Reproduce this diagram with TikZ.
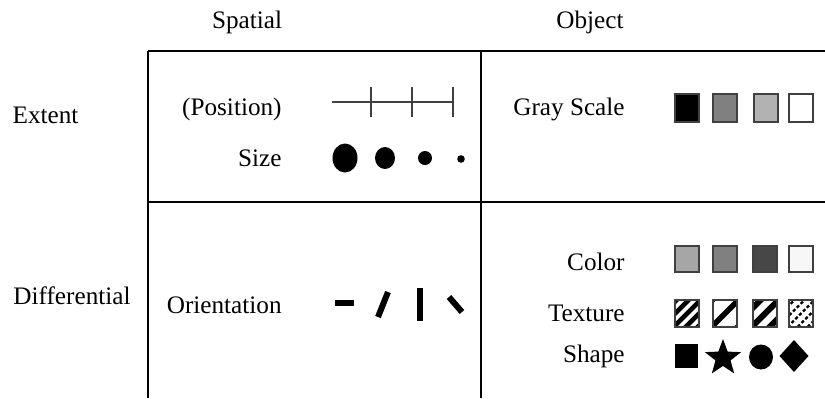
\documentclass[tikz,border=0pt]{standalone}
\usepackage{fontspec}
\setmainfont{Liberation Serif}
\usetikzlibrary{shapes.geometric}

\tikzset{
  lbl/.style={anchor=base east, inner sep=0pt},
  head/.style={anchor=base, inner sep=0pt},
  swatch/.style={draw=black!75, line width=1pt},
  bar/.style={line width=3pt},
}

% one hatched square: lower left corner x,y; stripe period; stripe width; line options
\newcommand{\hatchbox}[5]{%
  \begin{scope}
    \clip (#1,#2) rectangle ++(24,-27);
    \foreach \k in {-8,...,8} {
      \pgfmathsetmacro{\s}{\k*#3}
      \draw[line width=#4, #5] ({#1+12+\s-40},{#2-13.5+40}) -- ({#1+12+\s+40},{#2-13.5-40});
    }
  \end{scope}
  \draw[swatch] (#1,#2) rectangle ++(24,-27);
}

\begin{document}
\begin{tikzpicture}[x=0.5pt,y=-0.5pt,font=\fontsize{12.6}{15}\selectfont]
\useasboundingbox (0,0) rectangle (825,398);

% table frame
\coordinate (tl) at (148,51);
\coordinate (tm) at (481,51);
\coordinate (tr) at (825,51);
\draw[line width=1pt] (tl) -- (tr);
\draw[line width=1pt] (148,202) -- (825,202);
\draw[line width=1pt] (tl) -- (148,398);
\draw[line width=1pt] (tm) -- (481,398);

\node[head] (spatial) at (247,28.5) {Spatial};
\node[head] (object) at (590,28.5) {Object};
\node[head] (extent) at (45.5,123.5) {Extent};
\node[head] (differential) at (72,304.5) {Differential};

\node[lbl] (position) at (282,115.5) {(Position)};
\node[lbl] (size) at (282,166.5) {Size};
\node[lbl] (orientation) at (282,313.5) {Orientation};
\node[lbl] (grayscale) at (625,115.5) {Gray Scale};
\node[lbl] (color) at (625,270.5) {Color};
\node[lbl] (texture) at (625,321.5) {Texture};
\node[lbl] (shape) at (625,362.5) {Shape};

% position ruler
\draw[black!75, line width=0.7pt] (332,102) -- (453,102);
\foreach \x in {371,412,453}
  \draw[black!75, line width=1.2pt] (\x,87) -- (\x,117);

% size dots
\fill (345,158) ellipse (12.5 and 14.5);
\fill (385,158) ellipse (10 and 11);
\fill (425,158) ellipse (7 and 7);
\fill (461,159) circle (3.8);

% orientation bars
\draw[bar] (335,303) -- (354,303);
\draw[bar] (378,317) -- (388,292);
\draw[bar] (420,288) -- (420,321);
\draw[bar] (449,297) -- (462,312);

% gray scale
\filldraw[swatch, fill=black] (675,122) rectangle ++(24,-28);
\filldraw[swatch, fill=black!50] (713,122) rectangle ++(24,-28);
\filldraw[swatch, fill=black!30] (754,122) rectangle ++(24,-28);
\filldraw[swatch, fill=white] (789,122) rectangle ++(24,-28);

% color
\filldraw[swatch, fill=black!35] (675,272) rectangle ++(24,-26);
\filldraw[swatch, fill=black!50] (713,272) rectangle ++(24,-26);
\filldraw[swatch, fill=black!72] (753,272) rectangle ++(24,-26);
\filldraw[swatch, fill=black!3] (789,272) rectangle ++(24,-26);

% texture
\hatchbox{675}{327}{12}{2.3pt}{}
\hatchbox{713}{327}{26}{2.8pt}{}
\hatchbox{753}{327}{18}{3pt}{}
\hatchbox{789}{327}{10}{1.2pt}{dash pattern=on 1.6pt off 1.1pt}

% shape
\fill (675,368) rectangle (698,344);
\node[star, star points=5, star point ratio=2.4, fill, inner sep=0pt, minimum size=19pt] (star) at (723,358) {};
\fill (761,357) ellipse (12 and 12.5);
\fill (794,340) -- (808.5,356) -- (794,372) -- (779.5,356) -- cycle;

\end{tikzpicture}
\end{document}
